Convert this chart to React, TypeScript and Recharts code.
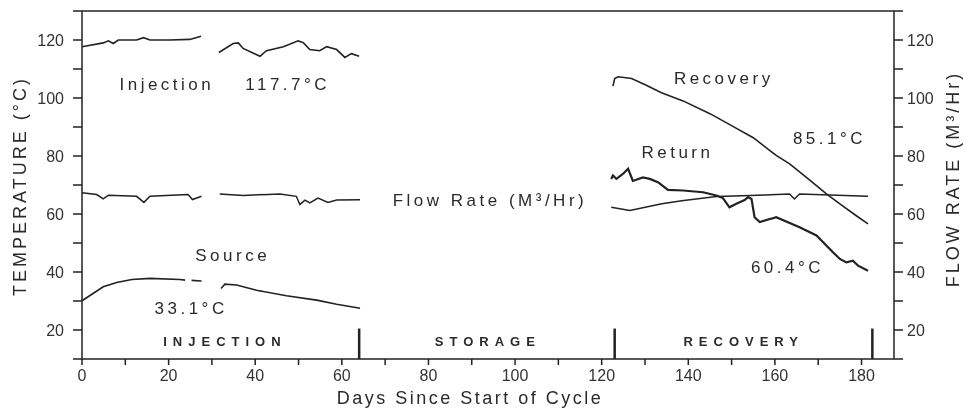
import { Line, LineChart, ReferenceDot, ReferenceLine, XAxis, YAxis } from "recharts";

// [day, value] pairs
const injectionA = [[0, 117.7], [4.9, 119.0], [6.1, 119.7], [7.2, 118.8], [8.4, 120.0], [12.6, 120.0], [14.2, 120.8], [15.7, 120.0], [20.3, 120.0], [24.9, 120.2], [27.5, 121.3]];
const injectionB = [[31.6, 115.7], [34.9, 118.8], [36.1, 119.0], [37.2, 117.1], [41.1, 114.4], [42.6, 116.3], [46.5, 117.7], [49.9, 119.7], [51.1, 119.1], [52.6, 116.7], [54.9, 116.3], [56.5, 117.7], [58.8, 116.7], [60.7, 114.0], [62.2, 115.3], [64.0, 114.4]];

const flowA = [[0, 67.3], [3.4, 66.7], [4.9, 65.2], [6.1, 66.5], [12.6, 66.1], [14.3, 64.0], [15.7, 66.1], [24.5, 66.7], [25.5, 65.0], [27.6, 66.1]];
const flowB = [[31.8, 66.9], [37.2, 66.4], [45.7, 66.9], [49.5, 66.1], [50.3, 63.3], [51.5, 64.8], [52.6, 63.8], [54.5, 65.5], [56.8, 64.0], [58.8, 64.8], [64.2, 64.9]];
const flowC = [[122.2, 62.3], [126.5, 61.2], [133.9, 63.5], [138.5, 64.6], [146.5, 66.0], [154.2, 66.4], [163.4, 66.9], [164.5, 65.2], [165.7, 66.9], [181.5, 66.1]];

const sourceA = [[0, 30.1], [4.9, 34.9], [8.0, 36.4], [11.5, 37.4], [15.7, 37.8], [22.6, 37.4], [23.8, 37.2]];
const sourceDash = [[25.3, 37.1], [27.6, 36.9]];
const sourceB = [[32.1, 34.3], [33.0, 35.8], [35.7, 35.5], [40.3, 33.7], [47.2, 31.8], [54.2, 30.3], [58.8, 28.9], [64.2, 27.5]];

const recovery = [[122.6, 104.1], [123.0, 106.7], [123.8, 107.3], [126.9, 106.7], [130.3, 104.4], [133.8, 101.8], [138.8, 99.0], [145.0, 94.6], [150.3, 90.2], [155.0, 86.3], [160.3, 80.2], [163.4, 77.3], [167.2, 72.7], [171.9, 66.9], [175.0, 63.5], [178.8, 59.4], [181.5, 56.6]];
const returnTemp = [[122.2, 72.1], [122.6, 73.3], [123.4, 72.1], [124.9, 73.8], [126.1, 75.6], [127.2, 71.4], [129.5, 72.6], [131.1, 72.1], [133.0, 71.0], [135.3, 68.3], [138.8, 68.1], [143.4, 67.5], [146.5, 66.4], [148.0, 65.5], [149.5, 62.3], [151.1, 63.5], [153.0, 64.8], [153.8, 65.8], [154.6, 65.2], [155.3, 58.9], [156.5, 57.2], [160.3, 58.9], [165.7, 55.4], [169.6, 52.6], [173.4, 46.8], [175.0, 44.5], [176.5, 43.3], [178.0, 43.9], [179.2, 42.2], [181.5, 40.4]];

const phaseEnds = [64, 123, 182.5];
const phaseNames = [
  { day: 33, text: "INJECTION" },
  { day: 93.7, text: "STORAGE" },
  { day: 152.8, text: "RECOVERY" },
];

const notes = [
  { day: 19.6, value: 104.7, text: "Injection" },
  { day: 47.5, value: 104.7, text: "117.7°C" },
  { day: 94.2, value: 64.6, text: "Flow Rate (M³/Hr)" },
  { day: 34.8, value: 45.6, text: "Source" },
  { day: 25.2, value: 27.3, text: "33.1°C" },
  { day: 148.2, value: 106.8, text: "Recovery" },
  { day: 137.5, value: 81.2, text: "Return" },
  { day: 172.6, value: 86.1, text: "85.1°C" },
  { day: 162.9, value: 41.5, text: "60.4°C" },
];

const dayTicks = [0, 10, 20, 30, 40, 50, 60, 70, 80, 90, 100, 110, 120, 130, 140, 150, 160, 170, 180];
const valueTicks = [10, 20, 30, 40, 50, 60, 70, 80, 90, 100, 110, 120, 130];

const ink = "#222";
const font = "'Liberation Sans', Arial, sans-serif";

const pts = (rows: number[][]) => rows.map(([day, v]) => ({ day, v }));
const evenLabel = (v: number) => (v % 20 === 0 && v >= 20 && v <= 120 ? String(v) : "");
const dayLabel = (v: number) => (v % 20 === 0 ? String(v) : "");

const note = (text: string, size = 17, spacing = 3.5, weight = 400) => (p: any) => (
  <text
    x={p.viewBox.x}
    y={p.viewBox.y}
    textAnchor="middle"
    dominantBaseline="central"
    fontFamily={font}
    fontSize={size}
    fontWeight={weight}
    letterSpacing={spacing}
    fill="#2a2a2a"
  >
    {text}
  </text>
);

const tempSeries = [injectionA, injectionB, sourceA, sourceDash, sourceB, recovery, returnTemp];
const flowSeries = [flowA, flowB, flowC];

export default function App() {
  return (
    <div style={{ position: "fixed", left: 8, top: 8 }}>
      <LineChart width={956} height={406} margin={{ top: 3, right: 10, bottom: 5, left: 14 }}>
        <XAxis
          type="number"
          dataKey="day"
          domain={[0, 187.5]}
          ticks={dayTicks}
          tickFormatter={dayLabel}
          allowDuplicatedCategory={false}
          height={50}
          tickSize={6}
          tickMargin={5}
          stroke={ink}
          strokeWidth={1.5}
          tick={{ fontSize: 16, fill: "#333", fontFamily: font }}
          label={{
            content: (p: any) => (
              <text
                x={p.viewBox.x + p.viewBox.width / 2 - 18}
                y={396}
                textAnchor="middle"
                fontFamily={font}
                fontSize={18}
                letterSpacing={2.5}
                fill="#2a2a2a"
              >
                Days Since Start of Cycle
              </text>
            ),
          }}
        />
        <YAxis
          yAxisId="temp"
          type="number"
          domain={[10, 130]}
          ticks={valueTicks}
          tickFormatter={evenLabel}
          width={60}
          tickSize={9}
          tickMargin={9}
          stroke={ink}
          strokeWidth={1.5}
          tick={{ fontSize: 16, fill: "#333", fontFamily: font }}
          label={{
            content: () => (
              <text
                x={12}
                y={178}
                transform="rotate(-90 12 178)"
                textAnchor="middle"
                dominantBaseline="central"
                fontFamily={font}
                fontSize={18}
                letterSpacing={3}
                fill="#2a2a2a"
              >
                TEMPERATURE (°C)
              </text>
            ),
          }}
        />
        <YAxis
          yAxisId="flow"
          orientation="right"
          type="number"
          domain={[10, 130]}
          ticks={valueTicks}
          tickFormatter={evenLabel}
          width={60}
          tickSize={9}
          tickMargin={4}
          stroke={ink}
          strokeWidth={1.5}
          tick={{ fontSize: 16, fill: "#333", fontFamily: font }}
          label={{
            content: () => (
              <text
                x={945}
                y={171}
                transform="rotate(-90 945 171)"
                textAnchor="middle"
                dominantBaseline="central"
                fontFamily={font}
                fontSize={18}
                letterSpacing={3}
                fill="#2a2a2a"
              >
                FLOW RATE (M³/Hr)
              </text>
            ),
          }}
        />
        <ReferenceLine yAxisId="temp" y={130} stroke={ink} strokeWidth={1.5} />
        {phaseEnds.map((d) => (
          <ReferenceLine
            key={d}
            yAxisId="temp"
            segment={[{ x: d, y: 10 }, { x: d, y: 20.5 }]}
            stroke={ink}
            strokeWidth={2.5}
          />
        ))}
        {tempSeries.map((s, i) => (
          <Line
            key={"t" + i}
            yAxisId="temp"
            data={pts(s)}
            dataKey="v"
            type="linear"
            dot={false}
            stroke={ink}
            strokeWidth={s === returnTemp ? 2.2 : 1.6}
            isAnimationActive={false}
          />
        ))}
        {flowSeries.map((s, i) => (
          <Line
            key={"f" + i}
            yAxisId="flow"
            data={pts(s)}
            dataKey="v"
            type="linear"
            dot={false}
            stroke={ink}
            strokeWidth={1.5}
            isAnimationActive={false}
          />
        ))}
        {notes.map((n) => (
          <ReferenceDot key={n.text} yAxisId="temp" x={n.day} y={n.value} r={0} label={note(n.text)} />
        ))}
        {phaseNames.map((n) => (
          <ReferenceDot key={n.text} yAxisId="temp" x={n.day} y={16} r={0} label={note(n.text, 13, 6, 700)} />
        ))}
      </LineChart>
    </div>
  );
}
